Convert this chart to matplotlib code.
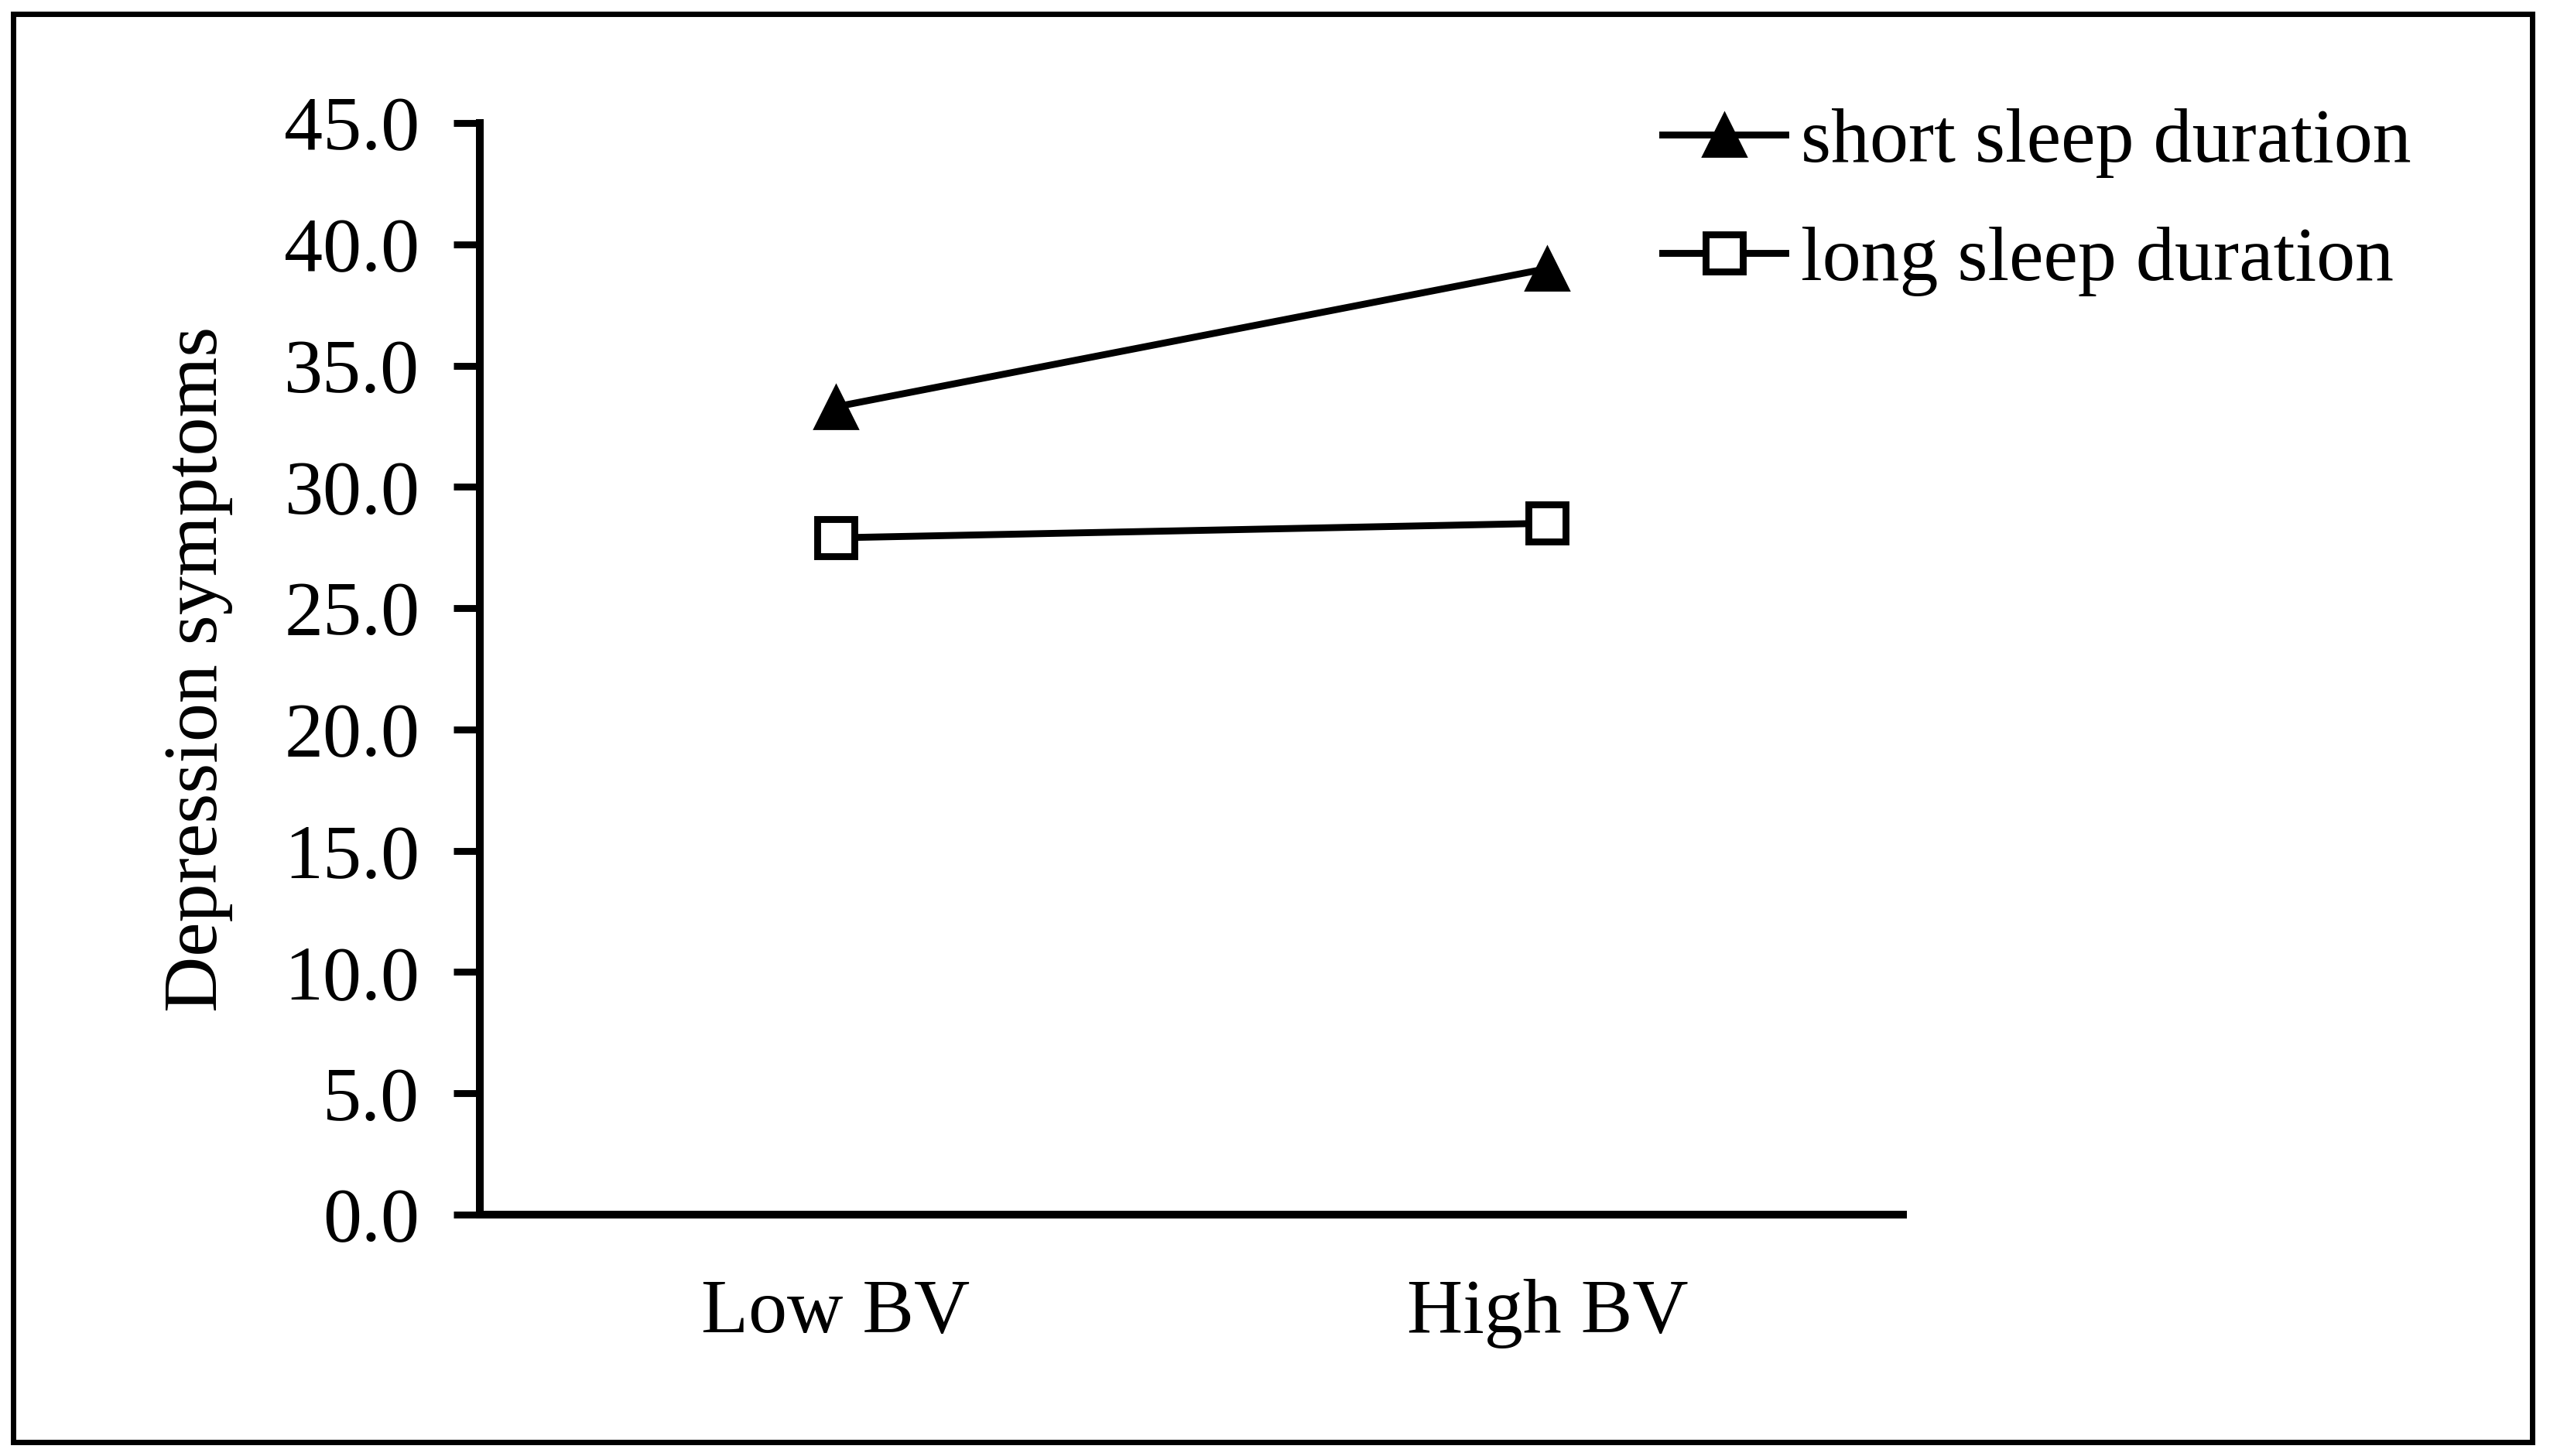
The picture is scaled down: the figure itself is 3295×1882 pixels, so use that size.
import matplotlib.pyplot as plt
from matplotlib.patches import Rectangle

# Data
categories = ['Low BV', 'High BV']
short_sleep = [33.3, 39.0]
long_sleep = [27.9, 28.5]
y_ticks = [0, 5, 10, 15, 20, 25, 30, 35, 40, 45]

plt.rcParams['font.family'] = ['Liberation Serif', 'DejaVu Serif']

fig = plt.figure(figsize=(16.475, 9.41), dpi=200)
ax = fig.add_axes([0.1882, 0.1658, 0.5581, 0.7497])

x = list(range(len(categories)))
ax.plot(x, short_sleep, color='black', lw=3.2, marker='^', ms=20,
        mfc='black', mec='black', mew=1, label='short sleep duration')
ax.plot(x, long_sleep, color='black', lw=3.2, marker='s', ms=17.6,
        mfc='white', mec='black', mew=3.2, label='long sleep duration')

ax.set_xlim(-0.5, 1.5)
ax.set_ylim(0, 45)
ax.set_xticks(x)
ax.set_xticklabels(categories)
ax.set_yticks(y_ticks)
ax.set_yticklabels([f'{v:.1f}' for v in y_ticks])
ax.tick_params(axis='y', direction='out', length=12.2, width=3.2, pad=15.8, labelsize=36)
ax.tick_params(axis='x', length=0, pad=30, labelsize=36)

for side in ['top', 'right']:
    ax.spines[side].set_visible(False)
for side in ['left', 'bottom']:
    ax.spines[side].set_linewidth(3.6)

fig.text(256 / 3295, 1 - 864.5 / 1882, 'Depression symptoms', rotation=90,
         ha='center', va='center', fontsize=36)

fig.legend(loc='upper left', bbox_to_anchor=(2148 / 3295, 1 - 139 / 1882),
           frameon=False, borderpad=0, borderaxespad=0, handlelength=1.59,
           handletextpad=0.2, labelspacing=0.62, fontsize=36)

# outer border around the whole chart
fig.patches.append(Rectangle((17 / 3295, 18 / 1882), (3272 - 17) / 3295, (1864 - 18) / 1882,
                             transform=fig.transFigure, fill=False,
                             edgecolor='black', lw=2.5))

fig.savefig('out.png', dpi=200)
